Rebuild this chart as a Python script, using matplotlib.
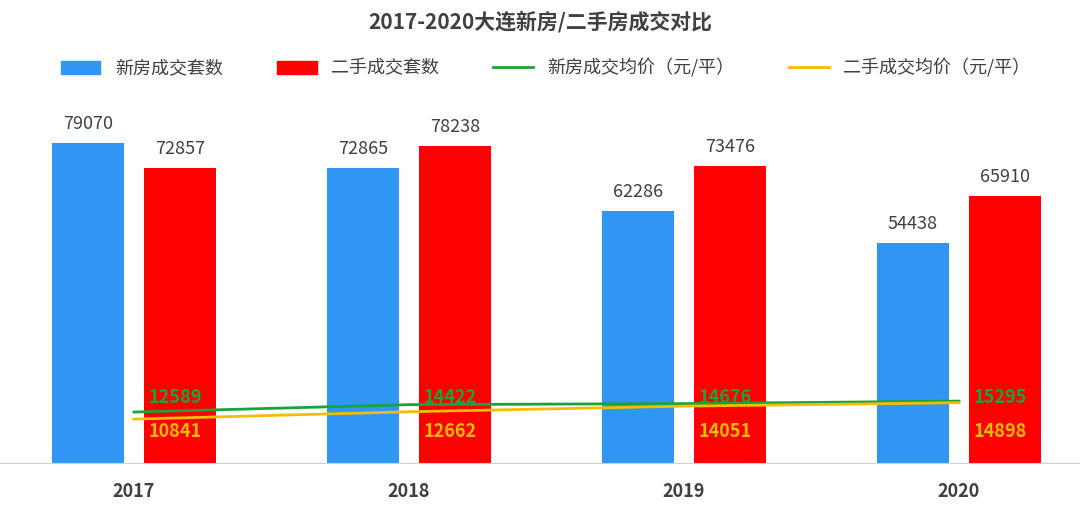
import matplotlib
matplotlib.use("Agg")
import matplotlib.pyplot as plt
import numpy as np
from matplotlib.patches import Patch
from matplotlib.lines import Line2D

plt.rcParams['font.family'] = ['Noto Sans CJK SC', 'DejaVu Sans']

years = ['2017', '2018', '2019', '2020']
new_count = [79070, 72865, 62286, 54438]
used_count = [72857, 78238, 73476, 65910]
new_price = [12589, 14422, 14676, 15295]
used_price = [10841, 12662, 14051, 14898]

blue = '#2f96f3'; red = '#ff0000'; green = '#18a33c'; yellow = '#f5bd00'

fig = plt.figure(figsize=(10.8, 5.09), dpi=100)
ax = fig.add_axes([0, 46/509, 1, (463-100)/509 + 0.0])
ax.set_position([0, 46/509, 1, 363/509])
x = np.arange(len(years))
w = 0.265
off = 46/275
b1 = ax.bar(x - off, new_count, w, color=blue)
b2 = ax.bar(x + off, used_count, w, color=red)
for xi, v in zip(x - off, new_count):
    ax.text(xi, v + 2500, str(v), ha='center', va='bottom', fontsize=13, color='#404040')
for xi, v in zip(x + off, used_count):
    ax.text(xi, v + 2500, str(v), ha='center', va='bottom', fontsize=13, color='#404040')
ax.plot(x, new_price, color=green, lw=2)
ax.plot(x, used_price, color=yellow, lw=2)
for xi, g, yv in zip(x, new_price, used_price):
    ax.text(xi + 0.15, 16300, str(g), color=green, fontsize=13, fontweight='bold', va='center', ha='center')
    ax.text(xi + 0.15, 7700, str(yv), color=yellow, fontsize=13, fontweight='bold', va='center', ha='center')

ax.set_xlim(-134/275, (1080-134)/275)
ax.set_ylim(0, 89700)
ax.set_xticks(x)
ax.set_xticklabels(years, fontsize=13, fontweight='bold', color='#404040')
ax.tick_params(axis='x', length=0, pad=14)
ax.set_yticks([])
for s in ['top', 'right', 'left']:
    ax.spines[s].set_visible(False)
ax.spines['bottom'].set_color('#d0d0d0')

fig.text(0.5, 1 - 22/509, '2017-2020大连新房/二手房成交对比', ha='center', va='center',
         fontsize=15, fontweight='bold', color='#404040')
handles = [Patch(color=blue), Patch(color=red), Line2D([], [], color=green, lw=2), Line2D([], [], color=yellow, lw=2)]
labels = ['新房成交套数', '二手成交套数', '新房成交均价（元/平）', '二手成交均价（元/平）']
fig.legend(handles, labels, loc='center', bbox_to_anchor=(0.505, 1 - 68/509), ncol=4, frameon=False,
           fontsize=13, handlelength=2.2, columnspacing=3, labelcolor='#404040')
fig.savefig('out.png', dpi=100)
